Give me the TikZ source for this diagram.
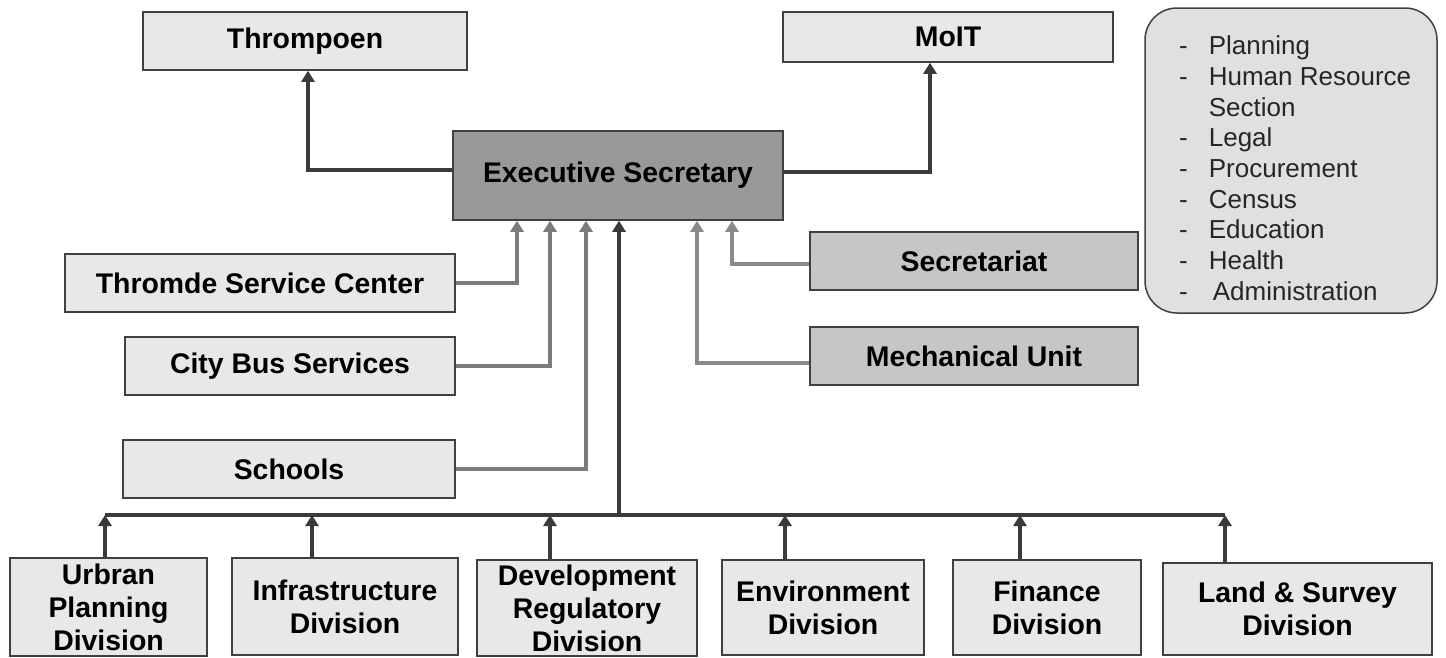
\documentclass[tikz,border=0pt]{standalone}
\usepackage{fontspec}
\setmainfont{Liberation Sans}
\usetikzlibrary{arrows.meta}
\definecolor{boxline}{HTML}{404040}
\definecolor{lightfill}{HTML}{E8E8E8}
\definecolor{midfill}{HTML}{C6C6C6}
\definecolor{execfill}{HTML}{999999}
\definecolor{listfill}{HTML}{E0E0E0}
\definecolor{dkline}{HTML}{3A3A3A}
\definecolor{mdline}{HTML}{7C7C7C}
\definecolor{ltline}{HTML}{8A8A8A}
\begin{document}
\begin{tikzpicture}[x=1pt,y=-1pt,
  box/.style={draw=boxline, fill=lightfill, line width=1.5pt, inner sep=0pt,
    font=\fontsize{28.4}{33}\selectfont\bfseries, align=center},
  conn/.style={line width=3.6pt, -{Triangle[length=11pt,width=13pt]}},
  dk/.style={conn, draw=dkline},
  md/.style={conn, draw=mdline},
  lt/.style={conn, draw=ltline}]
\useasboundingbox (0,0) rectangle (1446,657);
% top boxes
\node[box, minimum width=324pt, minimum height=58pt] (thr) at (305,41) {Thrompoen};
\node[box, minimum width=330pt, minimum height=50pt] (moit) at (948,37) {MoIT};
\node[box, fill=execfill, minimum width=330pt, minimum height=89pt] (exec) at (618,175.5) {Executive Secretary};
% left boxes
\node[box, minimum width=390pt, minimum height=58pt] (tsc) at (260,283) {Thromde Service Center};
\node[box, minimum width=330pt, minimum height=58pt] (cbs) at (290,366) {City Bus Services};
\node[box, minimum width=332pt, minimum height=58pt] (sch) at (289,469) {Schools};
% right boxes
\node[box, fill=midfill, minimum width=328pt, minimum height=58pt] (sec) at (974,261) {Secretariat};
\node[box, fill=midfill, minimum width=328pt, minimum height=58pt] (mech) at (974,356) {Mechanical Unit};
% list box
\node[draw=boxline, fill=listfill, line width=1.5pt, rounded corners=32pt,
  minimum width=292pt, minimum height=305pt, inner sep=0pt] (list) at (1291,160.5) {};
\node[anchor=north west, inner sep=0pt, font=\fontsize{26}{30.7}\selectfont, text=black!85] (listtext) at (1179,33)
 {\begin{tabular}{@{}l@{\hspace{21pt}}l@{}}
 - & Planning\\
 - & Human Resource\\
   & Section\\
 - & Legal\\
 - & Procurement\\
 - & Census\\
 - & Education\\
 - & Health\\
 - & \hspace{4pt}Administration
 \end{tabular}};
% bottom boxes
\node[box, minimum width=197pt, minimum height=98pt] (upd) at (108.5,607) {Urbran\\Planning\\Division};
\node[box, minimum width=226pt, minimum height=97pt] (inf) at (345,606.5) {Infrastructure\\Division};
\node[box, minimum width=220pt, minimum height=96pt] (drd) at (587,608) {Development\\Regulatory\\Division};
\node[box, minimum width=202pt, minimum height=95pt] (env) at (823,607.5) {Environment\\Division};
\node[box, minimum width=188pt, minimum height=95pt] (fin) at (1047,607.5) {Finance\\Division};
\node[box, minimum width=269pt, minimum height=92pt] (lsd) at (1297.5,609) {Land \& Survey\\Division};
% helper coordinates
\coordinate (tp) at (308,170);
\coordinate (mo) at (930,172);
\coordinate (c1) at (517,0);
\coordinate (c2) at (550,0);
\coordinate (c3) at (586,0);
\coordinate (m1) at (697,363);
\coordinate (s1) at (732,264);
\coordinate (trunk) at (619,515);
\coordinate (busL) at (105,515);
\coordinate (busR) at (1225,515);
\coordinate (b1) at (105,515);
\coordinate (b2) at (312,515);
\coordinate (b3) at (550,515);
\coordinate (b4) at (785,515);
\coordinate (b5) at (1020,515);
\coordinate (b6) at (1225,515);
% connectors to top
\draw[dk] (exec.west |- tp) -| (tp |- thr.south);
\draw[dk] (exec.east |- mo) -| (mo |- moit.south);
% left connectors
\draw[md] (tsc.east) -| (c1 |- exec.south);
\draw[md] (cbs.east) -| (c2 |- exec.south);
\draw[md] (sch.east) -| (c3 |- exec.south);
% right connectors
\draw[lt] (mech.west |- m1) -| (m1 |- exec.south);
\draw[lt] (sec.west |- s1) -| (s1 |- exec.south);
% bus and trunk
\draw[dkline, line width=3.6pt] (busL) -- (busR);
\draw[dk] (trunk) -- (trunk |- exec.south);
\draw[dk] (b1 |- upd.north) -- (b1);
\draw[dk] (b2 |- inf.north) -- (b2);
\draw[dk] (b3 |- drd.north) -- (b3);
\draw[dk] (b4 |- env.north) -- (b4);
\draw[dk] (b5 |- fin.north) -- (b5);
\draw[dk] (b6 |- lsd.north) -- (b6);
\end{tikzpicture}
\end{document}
